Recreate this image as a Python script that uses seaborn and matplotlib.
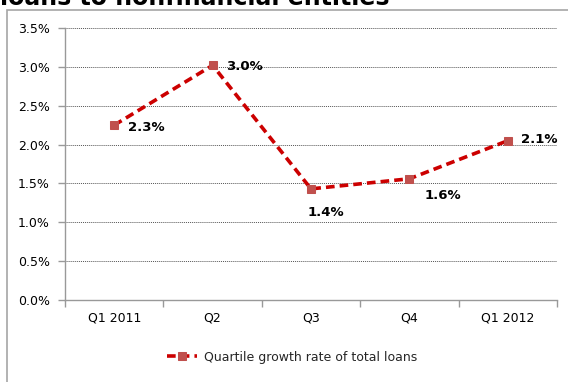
import matplotlib
matplotlib.use("Agg")
import matplotlib.pyplot as plt
import seaborn as sns
import pandas as pd
from matplotlib.patches import Rectangle
from matplotlib.ticker import FuncFormatter, MultipleLocator, FixedLocator

categories = ["Q1 2011", "Q2", "Q3", "Q4", "Q1 2012"]
growth = [2.25, 3.02, 1.43, 1.56, 2.05]
point_labels = ["2.3%", "3.0%", "1.4%", "1.6%", "2.1%"]
series_name = "Quartile growth rate of total loans"
title = "loans to nonfinancial entities"

sns.set_theme(style="white")
plt.rcParams['font.family'] = ['DejaVu Sans']

fig = plt.figure(figsize=(5.68, 3.82), dpi=100)
ax = fig.add_axes([65/568, 1-300/382, (557-65)/568, (300-28)/382])

df = pd.DataFrame({"quarter": categories, "growth": growth, "series": series_name})

sns.lineplot(data=df, x="quarter", y="growth", sort=False, ax=ax,
             color="#CC0000", linewidth=2.6, linestyle=(0, (2.4, 1.4)),
             marker="s", markersize=6, markerfacecolor="#C0504D",
             markeredgecolor="#C0504D", label=series_name)

ax.set_xlim(-0.5, 4.5)
ax.set_ylim(0, 3.5)
ax.yaxis.set_major_locator(MultipleLocator(0.5))
ax.yaxis.set_major_formatter(FuncFormatter(lambda v, p: f"{v:.1f}%"))
ax.xaxis.set_minor_locator(FixedLocator([-0.5, 0.5, 1.5, 2.5, 3.5, 4.5]))
ax.tick_params(axis="x", which="major", length=0, pad=8, labelsize=9, colors="black")
ax.tick_params(axis="x", which="minor", length=5, width=1, color="#999999", direction="out", bottom=True)
ax.tick_params(axis="y", which="major", length=5, width=1, color="#999999", direction="out", left=True,
               labelsize=9, pad=6)
for lab in ax.get_yticklabels() + ax.get_xticklabels():
    lab.set_color("black")

ax.grid(False)
ax.yaxis.grid(True, linestyle=(0, (1, 1)), color="#555555", linewidth=0.7)
for s in ["top", "right"]:
    ax.spines[s].set_visible(False)
for s in ["left", "bottom"]:
    ax.spines[s].set_color("#999999")
    ax.spines[s].set_linewidth(1)
ax.set_xlabel("")
ax.set_ylabel("")

offsets = [(14, -2, "left", "center"), (13, -1, "left", "center"), (15, -24, "center", "center"),
           (33, -17, "center", "center"), (13, 1, "left", "center")]
for i, (lab, val) in enumerate(zip(point_labels, growth)):
    dx, dy, ha, va = offsets[i]
    ax.annotate(lab, (i, val), xytext=(dx, dy), textcoords="offset pixels",
                ha=ha, va=va, fontsize=9.5, fontweight="bold", color="black")

leg = ax.legend(loc="center", bbox_to_anchor=(0.514, 0.065), bbox_transform=fig.transFigure,
                frameon=False, fontsize=9, handlelength=2.4, handletextpad=0.6)

fig.patches.append(Rectangle((7/568, -0.1), 1.2, 1-10/382+0.1, transform=fig.transFigure,
                             fill=False, edgecolor="#A6A6A6", linewidth=1.2, zorder=-1))

fig.text(0.0, 1-5/382, title, fontsize=17, fontweight="bold", ha="left", va="baseline", color="black")

fig.savefig("out.png", dpi=100)
